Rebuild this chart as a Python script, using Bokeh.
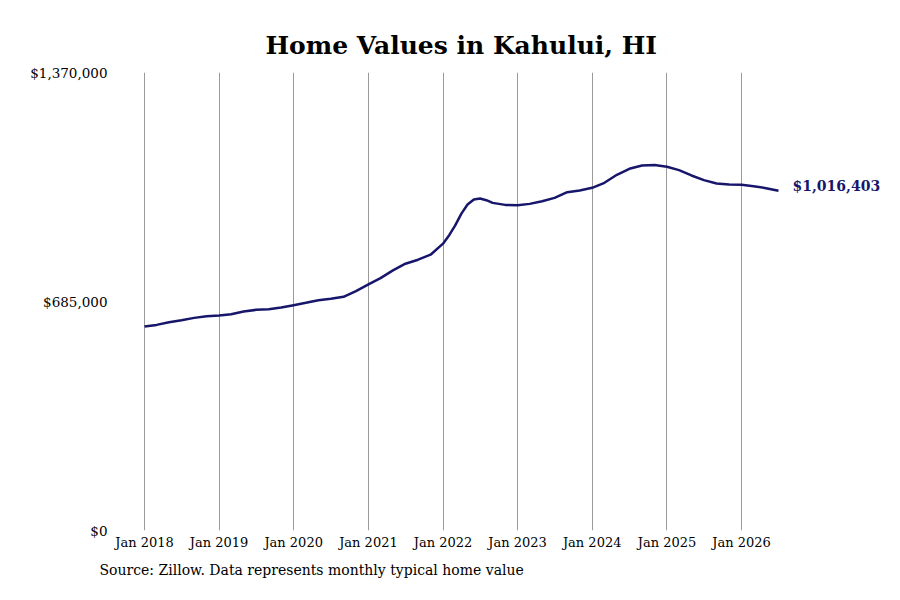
from datetime import datetime

from bokeh.embed import file_html
from bokeh.models import FixedTicker, Label, Range1d, Title
from bokeh.plotting import figure
from bokeh.resources import INLINE

# monthly typical home value
months = [
    "2018-01", "2018-03", "2018-05", "2018-07", "2018-09", "2018-11",
    "2019-01", "2019-03", "2019-05", "2019-07", "2019-09", "2019-11",
    "2020-01", "2020-03", "2020-05", "2020-07", "2020-09", "2020-11",
    "2021-01", "2021-03", "2021-05", "2021-07", "2021-09", "2021-11",
    "2022-01", "2022-02", "2022-03", "2022-04", "2022-05", "2022-06",
    "2022-07", "2022-08", "2022-09", "2022-11",
    "2023-01", "2023-03", "2023-05", "2023-07", "2023-09", "2023-11",
    "2024-01", "2024-03", "2024-05", "2024-07", "2024-09", "2024-11",
    "2025-01", "2025-03", "2025-05", "2025-07", "2025-09", "2025-11",
    "2026-01", "2026-03", "2026-05", "2026-07",
]
values = [
    610000, 615000, 623000, 629000, 636000, 641000,
    643000, 647000, 655000, 660000, 662000, 667000,
    674000, 681000, 689000, 693000, 699000, 716000,
    736000, 755000, 778000, 798000, 810000, 825000,
    858000, 884000, 912000, 948000, 975000, 990000,
    993000, 988000, 980000, 974000,
    973000, 977000, 985000, 995000, 1012000, 1017000,
    1025000, 1040000, 1064000, 1082000, 1092000, 1093000,
    1088000, 1078000, 1062000, 1048000, 1038000, 1035000,
    1034000, 1030000, 1024000, 1016403,
]
tick_years = list(range(2018, 2027))
tick_labels = ["Jan %d" % y for y in tick_years]
y_ticks = [0, 685000, 1370000]
y_labels = ["$0", "$685,000", "$1,370,000"]
last_label = "$1,016,403"
source_text = "Source: Zillow. Data represents monthly typical home value"

NAVY = "#17166b"
FONT = "DejaVu Serif"

dates = [datetime.strptime(m, "%Y-%m") for m in months]


def ms(d):
    return (d - datetime(1970, 1, 1)).total_seconds() * 1000.0


tick_ms = [ms(datetime(y, 1, 1)) for y in tick_years]

p = figure(width=884, height=584, x_axis_type="datetime",
           output_backend="svg", toolbar_location=None,
           min_border_left=115, min_border_right=2,
           min_border_top=72, min_border_bottom=50)
p.outline_line_color = None

x0 = ms(datetime(2017, 8, 12))
x1 = ms(datetime(2027, 11, 22))
p.x_range = Range1d(x0, x1)
p.y_range = Range1d(0, 1370000)

p.line(dates, values, color=NAVY, line_width=2.5, line_join="round")

lbl = Label(x=dates[-1], y=values[-1], text=last_label, x_offset=14,
            y_offset=5, text_baseline="middle", text_font=FONT,
            text_font_style="bold", text_font_size="14px",
            text_color=NAVY)
p.add_layout(lbl)

p.title.text = "Home Values in Kahului, HI"
p.title.align = "left"
p.title.offset = 150
p.title.standoff = 25
p.title.text_font = FONT
p.title.text_font_size = "25px"
p.title.text_color = "black"

src = Title(text=source_text, align="left", offset=-16, standoff=14,
            text_font=FONT, text_font_size="14px",
            text_font_style="normal", text_color="black")
p.add_layout(src, "below")

p.xaxis.ticker = FixedTicker(ticks=tick_ms)
p.xaxis.major_label_overrides = dict(zip(tick_ms, tick_labels))
p.yaxis.ticker = FixedTicker(ticks=y_ticks)
p.yaxis.major_label_overrides = dict(zip(y_ticks, y_labels))

for ax in (p.xaxis, p.yaxis):
    ax.axis_line_color = None
    ax.major_tick_line_color = None
    ax.minor_tick_line_color = None
    ax.major_tick_out = 0
    ax.minor_tick_out = 0
    ax.major_label_text_font = FONT
    ax.major_label_text_color = "black"
p.xaxis.major_label_text_font_size = "13px"
p.yaxis.major_label_text_font_size = "13.5px"
p.yaxis.major_label_standoff = 8
p.xaxis.major_label_standoff = 4

p.xgrid.ticker = FixedTicker(ticks=tick_ms)
p.xgrid.grid_line_color = "#9a9a9a"
p.xgrid.grid_line_width = 1
p.ygrid.grid_line_color = None

open("out.html", "w").write(file_html(p, INLINE))
